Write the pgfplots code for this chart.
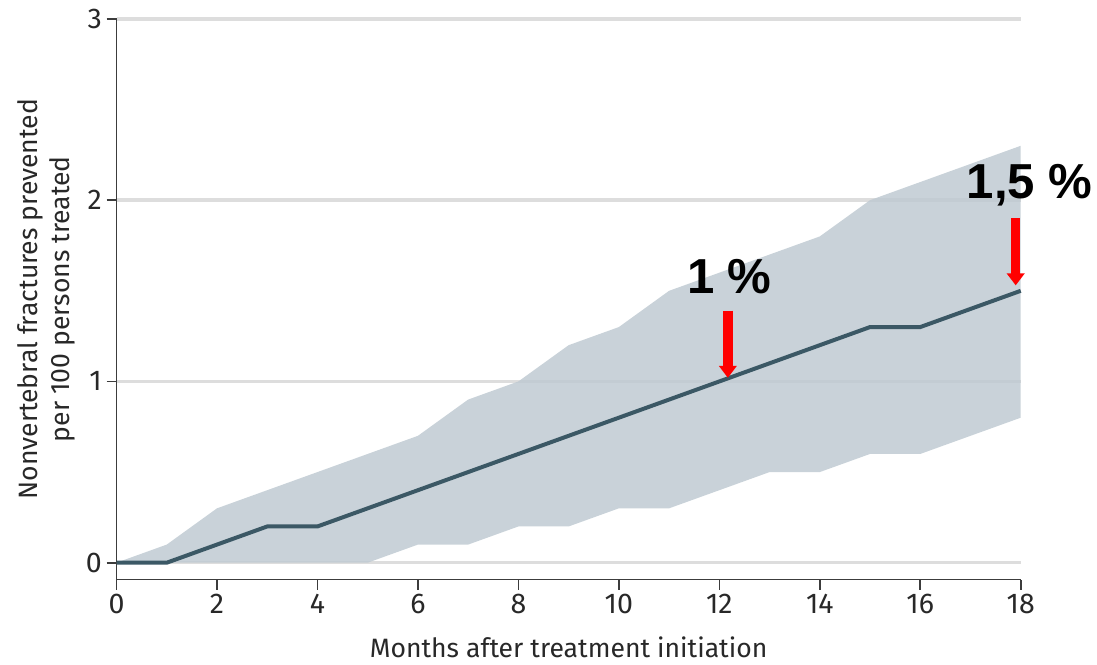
\documentclass[border=0pt]{standalone}
\usepackage{fontspec}
\setmainfont{Fira Sans}
\newfontfamily\annfont{Liberation Sans}
\usepackage{pgfplots}
\pgfplotsset{compat=1.18}
\usepgfplotslibrary{fillbetween}
\usetikzlibrary{arrows.meta}
\definecolor{bandc}{RGB}{191,202,210}
\definecolor{linec}{RGB}{59,88,101}
\definecolor{gridc}{RGB}{221,221,221}
\definecolor{axisc}{RGB}{60,60,60}
\definecolor{textc}{RGB}{40,40,40}
\begin{document}
\begin{tikzpicture}
\begin{axis}[
  at={(0,0)}, anchor=south west,
  scale only axis, width=681pt, height=422.25pt,
  xmin=0, xmax=18, ymin=-0.093, ymax=3,
  axis lines*=left,
  axis line style={draw=axisc, line width=1.2pt},
  xtick={0,2,...,18}, ytick={0,1,2,3},
  tick align=outside, major tick length=7.5pt,
  tick style={draw=axisc, line width=1.2pt},
  ymajorgrids, grid style={draw=gridc, line width=2.6pt},
  tick label style={font=\fontsize{21.5}{25}\selectfont, text=textc},
  /pgf/number format/assume math mode=true,
  label style={font=\fontsize{20}{24}\selectfont, text=textc},
  xlabel={Months after treatment initiation},
  xlabel style={at={(axis description cs:0.5,0)}, anchor=center, yshift=-51pt},
  ylabel={Nonvertebral fractures prevented\\per 100 persons treated},
  ylabel style={align=center, at={(axis description cs:-0.078,0.5)}, anchor=center},
  clip=false,
]
\addplot[name path=upper, draw=none, forget plot] coordinates {
(0,0) (1,0.1) (2,0.3) (3,0.4) (4,0.5) (5,0.6) (6,0.7) (7,0.9) (8,1.0) (9,1.2)
(10,1.3) (11,1.5) (12,1.6) (13,1.7) (14,1.8) (15,2.0) (16,2.1) (17,2.2) (18,2.3)};
\addplot[name path=lower, draw=none, forget plot] coordinates {
(0,0) (1,0) (2,0) (3,0) (4,0) (5,0) (6,0.1) (7,0.1) (8,0.2) (9,0.2)
(10,0.3) (11,0.3) (12,0.4) (13,0.5) (14,0.5) (15,0.6) (16,0.6) (17,0.7) (18,0.8)};
\addplot[fill=bandc, fill opacity=0.85, draw=none] fill between[of=upper and lower];
\addplot[linec, line width=3pt] coordinates {
(0,0) (1,0) (2,0.1) (3,0.2) (4,0.2) (5,0.3) (6,0.4) (7,0.5) (8,0.6) (9,0.7)
(10,0.8) (11,0.9) (12,1.0) (13,1.1) (14,1.2) (15,1.3) (16,1.3) (17,1.4) (18,1.5)};
\node[font=\annfont\bfseries\fontsize{37}{40}\selectfont] at (axis cs:12.2,1.58) {1 \%};
\node[font=\annfont\bfseries\fontsize{37}{40}\selectfont] at (axis cs:18.18,2.08) {1,5 \%};
\draw[red, line width=7pt, -{Triangle[width=13pt,length=9pt]}] (axis cs:12.17,1.39) -- (axis cs:12.17,1.02);
\draw[red, line width=7pt, -{Triangle[width=13pt,length=9pt]}] (axis cs:17.9,1.90) -- (axis cs:17.9,1.53);
\end{axis}
\path (-87.75pt,-63.75pt) rectangle (735pt,436.5pt);
\end{tikzpicture}
\end{document}
